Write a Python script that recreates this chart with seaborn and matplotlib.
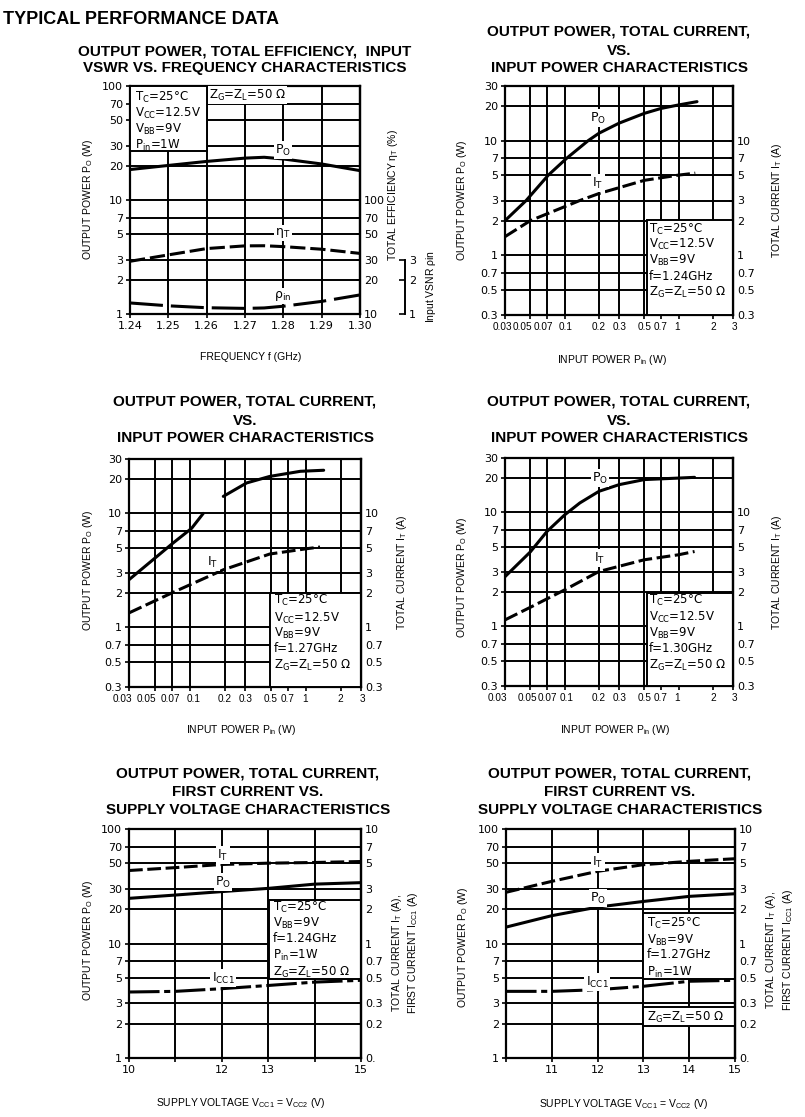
import matplotlib
matplotlib.use("Agg")
import matplotlib.pyplot as plt
from matplotlib.patches import Rectangle
from matplotlib.ticker import NullLocator
from matplotlib.transforms import ScaledTranslation
import seaborn as sns

# ---- values ----
# output power / efficiency / input VSWR vs frequency
freq = [1.24, 1.25, 1.26, 1.27, 1.275, 1.28, 1.29, 1.30]
po_freq = [18.5, 20.1, 21.8, 23.3, 23.7, 22.9, 20.7, 18.1]
eff_freq = [29, 33, 37.5, 39.6, 39.7, 39, 37, 34]
rho_freq = [1.25, 1.18, 1.135, 1.12, 1.13, 1.17, 1.29, 1.47]

# output power / total current vs input power, f = 1.24 GHz
pin_124 = [0.03, 0.046, 0.072, 0.104, 0.161, 0.2, 0.3, 0.5, 0.7, 1.0, 1.45]
po_124 = [2.0, 3.0, 5.0, 7.0, 10.0, 11.6, 14.2, 17.3, 19.1, 20.5, 21.9]
pin_124_it = [0.03, 0.05, 0.136, 0.2, 0.5, 1.0, 1.4]
it_124 = [1.45, 2.0, 3.0, 3.45, 4.5, 5.0, 5.2]

# f = 1.27 GHz (the print has a gap in the Po curve)
pin_127_lo = [0.03, 0.072, 0.104, 0.131]
po_127_lo = [2.62, 5.5, 7.4, 10.0]
pin_127_hi = [0.195, 0.31, 0.49, 0.90, 1.43]
po_127_hi = [14.1, 18.5, 21.1, 23.4, 23.9]
pin_127_it = [0.03, 0.072, 0.195, 0.49, 1.02, 1.33]
it_127 = [1.34, 2.03, 3.2, 4.4, 4.9, 5.07]

# f = 1.30 GHz
pin_130 = [0.03, 0.05, 0.07, 0.1, 0.136, 0.2, 0.3, 0.5, 1.0, 1.38]
po_130 = [2.73, 4.5, 6.8, 9.5, 12.1, 15.3, 17.5, 19.4, 20.0, 20.3]
pin_130_it = [0.03, 0.05, 0.1, 0.2, 0.5, 1.0, 1.38]
it_130 = [1.14, 1.47, 2.09, 3.03, 3.84, 4.25, 4.54]

# supply voltage sweeps
vcc = [10, 11, 12, 13, 14, 15]
it_v124 = [4.34, 4.6, 4.9, 5.03, 5.1, 5.2]
po_v124 = [24.8, 26.5, 28.4, 30.3, 33.0, 34.0]
icc_v124 = [0.377, 0.382, 0.403, 0.43, 0.46, 0.477]
it_v127 = [2.8, 3.49, 4.27, 4.88, 5.22, 5.5]
po_v127 = [13.9, 17.5, 20.8, 23.3, 25.8, 27.2]
icc_v127 = [0.382, 0.382, 0.395, 0.423, 0.468, 0.477]

# tick values / labels
freq_ticks = [1.24, 1.25, 1.26, 1.27, 1.28, 1.29, 1.30]
freq_labels = ["1.24", "1.25", "1.26", "1.27", "1.28", "1.29", "1.30"]
pin_ticks = [0.03, 0.05, 0.07, 0.1, 0.2, 0.3, 0.5, 0.7, 1, 2, 3]
pin_labels = ["0.03", "0.05", "0.07", "0.1", "0.2", "0.3", "0.5", "0.7", "1", "2", "3"]
po_ticks_a = [0.3, 0.5, 0.7, 1, 2, 3, 5, 7, 10, 20, 30]
po_labels_a = ["0.3", "0.5", "0.7", "1", "2", "3", "5", "7", "10", "20", "30"]
it_ticks_a = [0.3, 0.5, 0.7, 1, 2, 3, 5, 7, 10]
it_labels_a = ["0.3", "0.5", "0.7", "1", "2", "3", "5", "7", "10"]
po_ticks_b = [1, 2, 3, 5, 7, 10, 20, 30, 50, 70, 100]
po_labels_b = ["1", "2", "3", "5", "7", "10", "20", "30", "50", "70", "100"]
eff_ticks = [10, 20, 30, 50, 70, 100]
rho_ticks = [1, 2, 3]
cur_ticks_b = [0.1, 0.2, 0.3, 0.5, 0.7, 1, 2, 3, 5, 7, 10]
cur_labels_b = ["0.", "0.2", "0.3", "0.5", "0.7", "1", "2", "3", "5", "7", "10"]
vcc_labels_124 = ["10", "", "12", "13", "", "15"]
vcc_labels_127 = ["", "11", "12", "13", "14", "15"]

# ---- style ----
sns.set_theme(style="ticks")
plt.rcParams["font.family"] = ["DejaVu Sans"]
plt.rcParams["mathtext.default"] = "regular"
plt.rcParams["text.color"] = "black"
plt.rcParams["axes.edgecolor"] = "black"
plt.rcParams["axes.linewidth"] = 1.6
plt.rcParams["xtick.color"] = "black"
plt.rcParams["ytick.color"] = "black"

W, H = 805, 1117
fig = plt.figure(figsize=(W / 100, H / 100), dpi=100)
fig.patch.set_facecolor("white")

TITLE = dict(fontfamily="Liberation Sans", fontweight="bold", fontsize=11, ha="center", va="center")
LABEL = dict(fontfamily="Liberation Sans", fontsize=7.5, ha="center", va="center")
NOTE = dict(fontsize=8.5, ha="left", va="center")
CURVE = dict(fontsize=9, ha="center", va="center")
SOLID = dict(color="black", lw=2.2)
DASH = dict(color="black", lw=2.2, linestyle=(0, (4.5, 1.5)))
DASHDOT = dict(color="black", lw=2.2, linestyle=(0, (10, 1.5, 2, 1.5)))


def fx(x):
    return x / W


def fy(y):
    return 1 - y / H


def make_axes(l, t, r, b):
    return fig.add_axes([fx(l), fy(b), (r - l) / W, (b - t) / H])


def titles(x, ys, lines):
    for y, s in zip(ys, lines):
        fig.text(fx(x), fy(y), s, **TITLE)


def label(x, y, s, rot=0, **kw):
    fig.text(fx(x), fy(y), s, rotation=rot, **LABEL, **kw)


def note_box(ax, l, t, r, b):
    ax.add_patch(Rectangle((fx(l), fy(b)), (r - l) / W, (b - t) / H, transform=fig.transFigure,
                           fc="white", ec="black", lw=1.4, clip_on=False, zorder=2.5))


def notes(ax, x, ys, lines):
    for y, s in zip(ys, lines):
        ax.text(fx(x), fy(y), s, transform=fig.transFigure, zorder=4, **NOTE)


def curve_label(ax, x, y, s):
    ax.text(fx(x), fy(y), s, transform=fig.transFigure, zorder=4,
            bbox=dict(fc="white", ec="none", pad=1), **CURVE)


def style_main(ax, xlog, xlim, ylim, xticks, xlabels, yticks, ylabels):
    if xlog:
        ax.set_xscale("log")
    ax.set_yscale("log")
    ax.set_xlim(*xlim)
    ax.set_ylim(*ylim)
    ax.set_xticks(xticks, xlabels)
    ax.set_yticks(yticks, ylabels)
    ax.xaxis.set_minor_locator(NullLocator())
    ax.yaxis.set_minor_locator(NullLocator())
    ax.grid(True, which="major", color="black", lw=1.4)
    ax.tick_params(direction="out", length=3, width=1.2, labelsize=8, pad=2)
    for s in ax.spines.values():
        s.set_visible(True)
        s.set_linewidth(1.6)
    ax.set_xlabel("")
    ax.set_ylabel("")


def style_twin(tw, ylim, yticks, ylabels):
    tw.set_yscale("log")
    tw.set_ylim(*ylim)
    tw.set_yticks(yticks, ylabels)
    tw.yaxis.set_minor_locator(NullLocator())
    tw.tick_params(direction="in", length=3, width=1.2, labelsize=8, pad=3)
    for k in ["left", "top", "bottom"]:
        tw.spines[k].set_visible(False)
    tw.set_ylabel("")


fig.text(fx(3), fy(20), "TYPICAL PERFORMANCE DATA", fontfamily="Liberation Sans",
         fontweight="bold", fontsize=13, ha="left", va="center")

# ---- panel 1: vs frequency ----
ax1 = make_axes(130, 86, 360, 314)
sns.lineplot(x=freq, y=po_freq, ax=ax1, **SOLID)
style_main(ax1, False, (1.24, 1.30), (1, 100), freq_ticks, freq_labels, po_ticks_b, po_labels_b)
ax1e = ax1.twinx()
sns.lineplot(x=freq, y=eff_freq, ax=ax1e, color="black", lw=2.2, linestyle=(0, (5, 1.6)))
style_twin(ax1e, (10, 1000), eff_ticks, [str(v) for v in eff_ticks])
ax1r = ax1.twinx()
sns.lineplot(x=freq, y=rho_freq, ax=ax1r, color="black", lw=2.2, linestyle=(0, (10.8, 2.6)))
style_twin(ax1r, (1, 100), rho_ticks, ["1", "2", "3"])
ax1r.spines["right"].set_position(("axes", (405 - 130) / 230))
ax1r.spines["right"].set_bounds(1, 3)
ax1r.spines["right"].set_linewidth(1.4)
ax1r.tick_params(direction="in", length=4)
note_box(ax1r, 130, 86, 207, 151)
notes(ax1r, 135, [97, 113, 129, 145], ["T$_C$=25°C", "V$_{CC}$=12.5V", "V$_{BB}$=9V", "P$_{in}$=1W"])
ax1r.text(fx(209), fy(95), "Z$_G$=Z$_L$=50 Ω", transform=fig.transFigure, zorder=4,
          bbox=dict(fc="white", ec="none", pad=1), **NOTE)
curve_label(ax1r, 283, 150, "P$_O$")
curve_label(ax1r, 283, 233, r"$\eta_T$")
curve_label(ax1r, 283, 296, r"$\rho_{in}$")
titles(245, [51, 68], ["OUTPUT POWER, TOTAL EFFICIENCY,  INPUT", "VSWR VS. FREQUENCY CHARACTERISTICS"])
label(88, 199, "OUTPUT POWER P$_O$ (W)", rot=90)
label(393, 195, r"TOTAL EFFICIENCY $\eta_T$ (%)", rot=90)
label(251, 357, "FREQUENCY f (GHz)")
label(431, 287, r"Input VSNR $\rho$in", rot=90)


# ---- panels 2-4: vs input power ----
def pin_panel(box, po_sets, pin_it, it_vals, freq_text, box_rect, note_x, note_ys, lbls, title_x, title_ys,
              ylab_l, ylab_r, xlab, shifts):
    ax = make_axes(*box)
    for px, py in po_sets:
        sns.lineplot(x=px, y=py, ax=ax, **SOLID)
    style_main(ax, True, (0.03, 3), (0.3, 30), pin_ticks, pin_labels, po_ticks_a, po_labels_a)
    # the printed input-power labels are condensed and run together, set a little off their ticks
    for t, dx in zip(ax.get_xticklabels(), shifts):
        t.set_fontfamily("Liberation Sans")
        t.set_fontsize(7.2)
        t.set_transform(t.get_transform() + ScaledTranslation(dx / 100, 0, fig.dpi_scale_trans))
    tw = ax.twinx()
    sns.lineplot(x=pin_it, y=it_vals, ax=tw, **DASH)
    style_twin(tw, (0.3, 30), it_ticks_a, it_labels_a)
    note_box(tw, *box_rect)
    notes(tw, note_x, note_ys, ["T$_C$=25°C", "V$_{CC}$=12.5V", "V$_{BB}$=9V", freq_text, "Z$_G$=Z$_L$=50 Ω"])
    for (lx, ly, s) in lbls:
        curve_label(tw, lx, ly, s)
    titles(title_x, title_ys, ["OUTPUT POWER, TOTAL CURRENT,", "VS.", "INPUT POWER CHARACTERISTICS"])
    label(ylab_l[0], ylab_l[1], "OUTPUT POWER P$_O$ (W)", rot=90)
    label(ylab_r[0], ylab_r[1], "TOTAL CURRENT I$_T$ (A)", rot=90)
    label(xlab[0], xlab[1], "INPUT POWER P$_{in}$ (W)")


pin_panel((505, 86, 733, 315), [(pin_124, po_124)], pin_124_it, it_124, "f=1.24GHz",
          (647, 220, 733, 315), 649, [229, 244, 260, 276, 292],
          [(598, 118, "P$_O$"), (598, 183, "I$_T$")], 619, [32, 51, 68],
          (462, 200), (777, 200), (612, 360), [-3, -8, -4, 1, 0, 1, 0, 0, -2, 0, 1])
pin_panel((129, 459, 361, 687), [(pin_127_lo, po_127_lo), (pin_127_hi, po_127_hi)], pin_127_it, it_127,
          "f=1.27GHz", (270, 593, 361, 687), 274, [600, 618, 633, 649, 665],
          [(213, 562, "I$_T$")], 245, [402, 421, 438],
          (88, 570), (402, 572), (241, 730), [-7, -8, -1, 4, 0, 1, 0, 0, -1, 0, 1])
pin_panel((505, 458, 733, 686), [(pin_130, po_130)], pin_130_it, it_130, "f=1.30GHz",
          (647, 593, 733, 686), 649, [600, 617, 633, 648, 665],
          [(600, 478, "P$_O$"), (600, 558, "I$_T$")], 619, [402, 421, 438],
          (462, 577), (777, 572), (615, 730), [-8, -3, 0, 2, 0, 1, 0, 0, -2, 0, 1])


# ---- panels 5-6: vs supply voltage ----
def vcc_panel(box, po_vals, it_vals, icc_vals, xlabels, lbls, title_x, title_ys, ylab_l, ylab_r, xlab):
    ax = make_axes(*box)
    sns.lineplot(x=vcc, y=po_vals, ax=ax, **SOLID)
    style_main(ax, False, (10, 15), (1, 100), vcc, xlabels, po_ticks_b, po_labels_b)
    tw = ax.twinx()
    sns.lineplot(x=vcc, y=it_vals, ax=tw, **DASH)
    sns.lineplot(x=vcc, y=icc_vals, ax=tw, **DASHDOT)
    style_twin(tw, (0.1, 10), cur_ticks_b, cur_labels_b)
    for (lx, ly, s) in lbls:
        curve_label(tw, lx, ly, s)
    titles(title_x, title_ys, ["OUTPUT POWER, TOTAL CURRENT,", "FIRST CURRENT VS.",
                               "SUPPLY VOLTAGE CHARACTERISTICS"])
    label(ylab_l[0], ylab_l[1], "OUTPUT POWER P$_O$ (W)", rot=90)
    label(ylab_r[0], ylab_r[1], "TOTAL CURRENT I$_T$ (A),\nFIRST CURRENT I$_{CC1}$ (A)", rot=90,
          linespacing=1.3)
    label(xlab[0], xlab[1], "SUPPLY VOLTAGE V$_{CC1}$ = V$_{CC2}$ (V)")
    return tw


tw5 = vcc_panel((129, 829, 361, 1058), po_v124, it_v124, icc_v124, vcc_labels_124,
                [(223, 855, "I$_T$"), (223, 882, "P$_O$"), (223, 978, "I$_{CC1}$")], 248, [773, 792, 810],
                (88, 940), (405, 953), (241, 1103))
note_box(tw5, 269, 900, 361, 979)
notes(tw5, 273, [907, 923, 939, 955, 972],
      ["T$_C$=25°C", "V$_{BB}$=9V", "f=1.24GHz", "P$_{in}$=1W", "Z$_G$=Z$_L$=50 Ω"])

tw6 = vcc_panel((506, 829, 735, 1058), po_v127, it_v127, icc_v127, vcc_labels_127,
                [(598, 862, "I$_T$"), (598, 898, "P$_O$"), (597, 982, "I$_{CC1}$")], 620, [773, 792, 810],
                (463, 947), (779, 950), (624, 1104))
note_box(tw6, 643, 913, 735, 979)
notes(tw6, 647, [923, 940, 955, 972], ["T$_C$=25°C", "V$_{BB}$=9V", "f=1.27GHz", "P$_{in}$=1W"])
note_box(tw6, 643, 1007, 735, 1026)
notes(tw6, 647, [1017], ["Z$_G$=Z$_L$=50 Ω"])

fig.savefig("out.png", dpi=100, facecolor="white")
